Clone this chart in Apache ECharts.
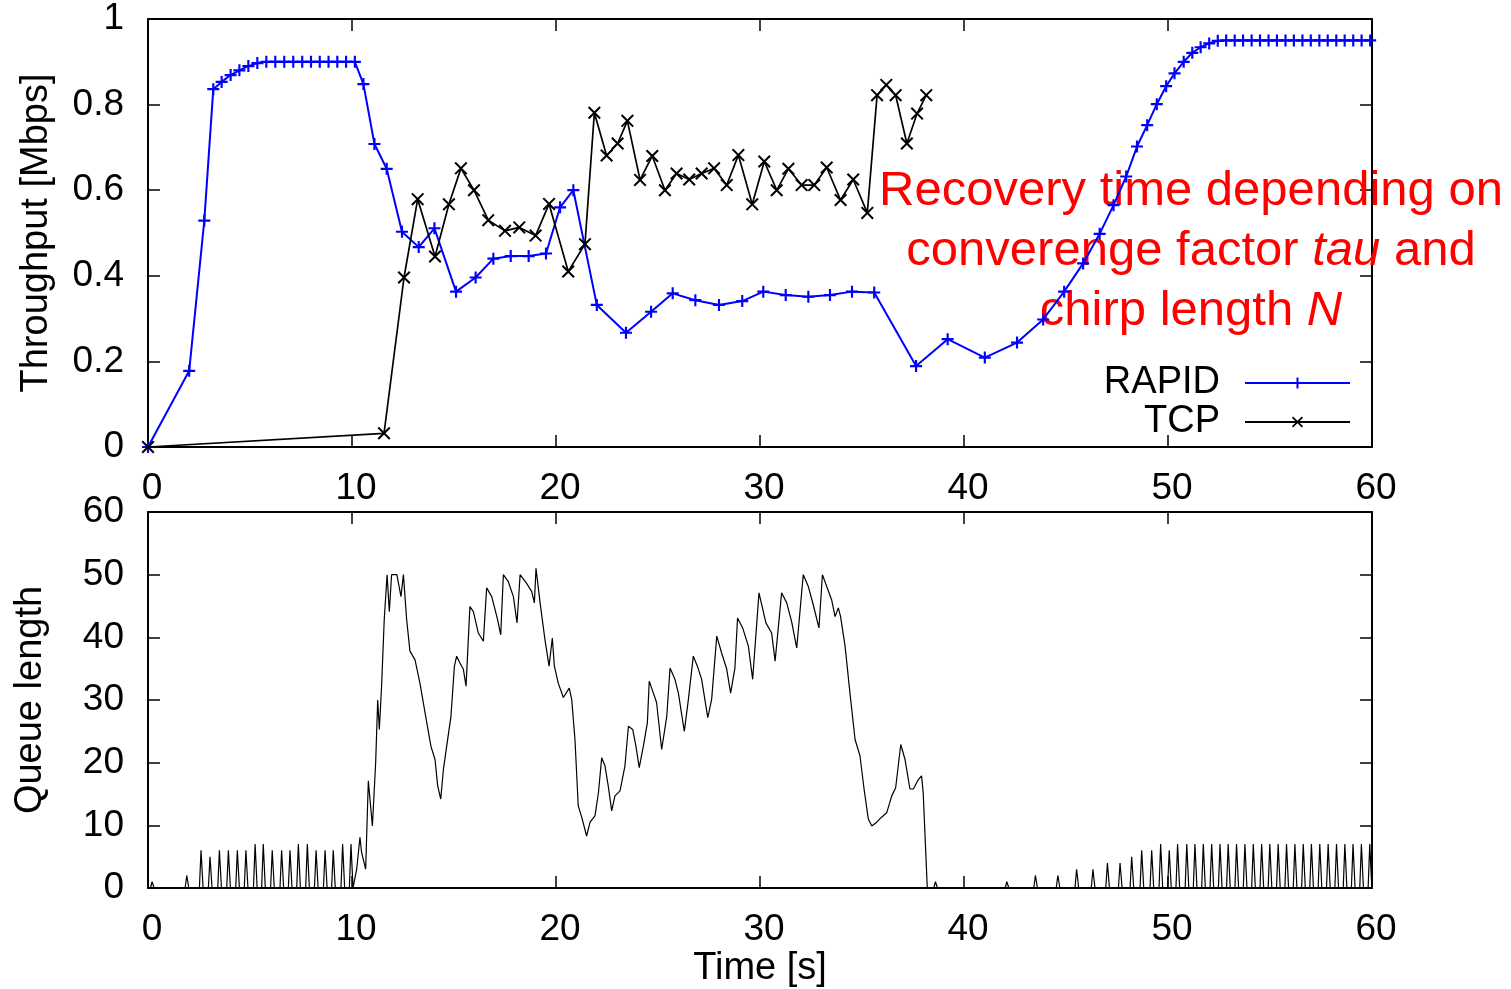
<!DOCTYPE html>
<html><head><meta charset="utf-8">
<script src="https://cdn.jsdelivr.net/npm/echarts@6/dist/echarts.min.js"></script>
<style>html,body{margin:0;padding:0;background:#fff}#c{width:1511px;height:989px}</style>
</head><body><div id="c"></div>
<script>
// ---------- data ----------
const xTickInterval = 10;
const rapidTime = [0, 2.02, 2.76, 3.2, 3.61, 4.05, 4.48, 4.92, 5.36, 5.8, 6.24, 6.68, 7.12, 7.56, 7.99, 8.42, 8.85, 9.28, 9.71, 10.14,
  10.56, 11.1, 11.7, 12.45, 13.27, 14.04, 15.1, 16.06, 16.93, 17.78, 18.66, 19.51, 20.2, 20.85, 22.0, 23.43, 24.66, 25.72, 26.83,
  27.99, 29.13, 30.16, 31.26, 32.37, 33.43, 34.51, 35.6, 37.65, 39.2, 41.02, 42.6, 43.88, 44.91, 45.84, 46.65, 47.33, 47.95, 48.48,
  48.98, 49.45, 49.91, 50.32, 50.77, 51.19, 51.6, 52.02, 52.44, 52.85, 53.27, 53.68, 54.1, 54.51, 54.93, 55.34, 55.76, 56.17, 56.59,
  57.0, 57.42, 57.83, 58.25, 58.66, 59.08, 59.49, 59.91];
const rapidThroughput = [0, 0.178, 0.529, 0.836, 0.853, 0.869, 0.88, 0.89, 0.897, 0.9, 0.9, 0.9, 0.9, 0.9, 0.9, 0.9, 0.9, 0.9, 0.9, 0.9,
  0.848, 0.708, 0.65, 0.503, 0.467, 0.511, 0.363, 0.396, 0.44, 0.446, 0.446, 0.452, 0.56, 0.6, 0.332, 0.267, 0.316, 0.359, 0.343,
  0.332, 0.341, 0.363, 0.355, 0.351, 0.355, 0.363, 0.361, 0.189, 0.252, 0.209, 0.244, 0.298, 0.363, 0.429, 0.498, 0.565, 0.632, 0.702,
  0.752, 0.801, 0.843, 0.873, 0.9, 0.921, 0.934, 0.943, 0.949, 0.95, 0.95, 0.95, 0.95, 0.95, 0.95, 0.95, 0.95, 0.95, 0.95,
  0.95, 0.95, 0.95, 0.95, 0.95, 0.95, 0.95, 0.95];
const tcpTime = [0, 11.57, 12.55, 13.22, 14.07, 14.75, 15.34, 15.98, 16.68, 17.5, 18.2, 19.0, 19.66, 20.6, 21.42, 21.88, 22.48, 23.02,
  23.5, 24.12, 24.72, 25.34, 25.91, 26.53, 27.14, 27.75, 28.37, 28.94, 29.62, 30.21, 30.82, 31.39, 32.04, 32.66, 33.27, 33.95, 34.57,
  35.26, 35.74, 36.19, 36.65, 37.2, 37.7, 38.15];
const tcpThroughput = [0, 0.032, 0.396, 0.579, 0.445, 0.567, 0.651, 0.6, 0.53, 0.505, 0.513, 0.494, 0.568, 0.41, 0.474, 0.781, 0.681, 0.709,
  0.762, 0.624, 0.68, 0.6, 0.639, 0.625, 0.639, 0.651, 0.612, 0.682, 0.567, 0.667, 0.6, 0.65, 0.612, 0.612, 0.653, 0.577, 0.625,
  0.547, 0.822, 0.846, 0.822, 0.709, 0.779, 0.822];

// queue: short bursts (peak time, peak length) while the link is underused
const burstTimeBefore = [0.2, 1.9, 2.6, 3.04, 3.5, 3.94, 4.38, 4.8, 5.25, 5.65, 6.09, 6.55, 6.96, 7.37, 7.81, 8.24, 8.68, 9.08, 9.54, 9.95];
const burstQueueBefore = [1, 2, 6, 5, 6, 6, 6, 6, 7, 7, 6, 6, 6, 7, 7, 6, 6, 6, 7, 7];
const burstTimeAfter = [38.6, 42.1, 43.5, 44.6, 45.52, 46.32, 47.03, 47.65, 48.22, 48.71, 49.2, 49.64, 50.06, 50.47, 50.92, 51.32,
  51.73, 52.14, 52.55, 52.95, 53.36, 53.77, 54.18, 54.59, 54.99, 55.4, 55.81, 56.22, 56.63, 57.03, 57.44, 57.85, 58.26, 58.67,
  59.07, 59.48, 59.89];
const burstQueueAfter = [1, 1, 2, 2, 3, 3, 4, 4, 5, 6, 6, 7, 6, 7, 7, 7, 7, 7, 7, 7, 7, 7, 7, 7, 7, 7, 7, 7, 7, 7, 7, 7, 7, 7, 7, 7, 7];
// queue while competing with TCP: [time, length]
const queueBusy = [[10.07,0],[10.23,3],[10.39,8.1],[10.47,5.7],[10.67,3],[10.8,17.1],[11.0,9.9],[11.16,20],[11.26,30],[11.34,25.3],
  [11.45,32.2],[11.58,42.8],[11.72,50],[11.83,44.1],[11.94,50],[12.2,50],[12.4,46.5],[12.52,50],[12.68,42.8],[12.84,37.8],[13.09,36.4],
  [13.33,32.7],[13.58,28],[13.87,22.6],[14.07,20.5],[14.2,16.3],[14.35,14.2],[14.48,18.9],[14.64,22.6],[14.85,27.4],[15.02,35.4],
  [15.13,37],[15.29,35.9],[15.46,34.9],[15.59,32.2],[15.78,44.9],[15.95,44.1],[16.19,40.7],[16.44,39.4],[16.6,47.9],[16.85,46.5],
  [17.14,42.8],[17.29,40.4],[17.42,50],[17.66,48.9],[17.91,46.5],[18.09,42.3],[18.24,50],[18.56,48.6],[18.81,47.3],[18.94,45.5],
  [19.02,51],[19.22,45.5],[19.46,39.6],[19.66,35.4],[19.82,39.9],[19.92,35.4],[20.11,32.7],[20.36,30.4],[20.65,31.9],[20.77,30.1],
  [20.93,23.7],[21.09,13.1],[21.26,11.3],[21.5,8.3],[21.67,10.5],[21.91,11.5],[22.08,15.2],[22.24,20.8],[22.4,19.5],[22.56,16.3],
  [22.73,12.3],[22.89,14.7],[23.14,15.5],[23.38,19.5],[23.55,25.8],[23.76,25.3],[23.92,22.6],[24.08,19.2],[24.28,22.6],[24.48,26.4],
  [24.57,33],[24.69,31.9],[24.93,29.6],[25.18,22.1],[25.43,27.4],[25.59,35.1],[25.83,33.3],[26.0,31.1],[26.29,25],[26.49,30.1],
  [26.73,37],[26.93,35.4],[27.14,33.3],[27.44,27.2],[27.63,30.1],[27.88,40.2],[28.12,37.5],[28.37,34.9],[28.56,31.1],[28.77,35.1],
  [28.9,43.1],[29.15,41.5],[29.43,38.6],[29.64,33.3],[29.95,47.1],[30.29,42.3],[30.57,40.7],[30.74,36.2],[31.06,47.1],[31.31,45.5],
  [31.55,42.5],[31.8,38.3],[32.12,50],[32.37,48.1],[32.61,45.2],[32.89,41.5],[33.06,50],[33.27,48.1],[33.51,46],[33.68,43.3],
  [33.84,44.7],[33.95,43.3],[34.17,38.6],[34.41,31.1],[34.66,23.7],[34.9,21.1],[35.1,15.8],[35.31,11],[35.48,9.9],[35.72,10.5],
  [35.96,11.3],[36.21,12],[36.46,14.7],[36.65,16],[36.9,22.9],[37.11,20.5],[37.35,15.8],[37.52,15.8],[37.76,17.3],[37.92,17.9],
  [38.0,15.2],[38.2,0]];

// ---------- build ----------
const FONT = '"Liberation Sans", Arial, Helvetica, sans-serif';
const rapidData = rapidTime.map((t, i) => [t, rapidThroughput[i]]);
const tcpData = tcpTime.map((t, i) => [t, tcpThroughput[i]]);
const BURST_RISE = 0.08, BURST_FALL = 0.1; // shape of a burst (display)
function bursts(times, qs) {
  const out = [];
  times.forEach((t, i) => { out.push([t - BURST_RISE, 0], [t, qs[i]], [t + BURST_FALL, 0]); });
  return out;
}
const queueData = [[0, 0]].concat(bursts(burstTimeBefore, burstQueueBefore), queueBusy,
  bursts(burstTimeAfter, burstQueueAfter), [[60, 0]]);

const plusPath = 'path://M0,4.1L10,4.1L10,5.9L0,5.9Z M4.1,0L5.9,0L5.9,10L4.1,10Z';
const crossPath = 'path://M0,1.1L1.1,0L10,8.9L8.9,10Z M8.9,0L10,1.1L1.1,10L0,8.9Z';

const lbl = { color: '#000', fontSize: 37, fontFamily: FONT };
const ttl = { color: '#000', fontSize: 38, fontFamily: FONT };
function xAx(grid, pos, extra) {
  return Object.assign({
    gridIndex: grid, type: 'value', min: 0, max: 60, interval: xTickInterval, position: pos,
    axisLine: { show: true, onZero: false, lineStyle: { color: '#000', width: 2 } },
    axisTick: { show: true, inside: true, length: 12, lineStyle: { color: '#000', width: 1.5 } },
    axisLabel: pos === 'bottom' ? Object.assign({ margin: 23, padding: [0, 0, 0, 8] }, lbl) : { show: false },
    splitLine: { show: false }
  }, extra || {});
}
function yAx(grid, pos, max, interval, extra) {
  return Object.assign({
    gridIndex: grid, type: 'value', min: 0, max: max, interval: interval, position: pos,
    axisLine: { show: true, onZero: false, lineStyle: { color: '#000', width: 2 } },
    axisTick: { show: true, inside: true, length: 12, lineStyle: { color: '#000', width: 1.5 } },
    axisLabel: pos === 'left' ? Object.assign({ margin: 24 }, lbl) : { show: false },
    splitLine: { show: false }
  }, extra || {});
}

const chart = echarts.init(document.getElementById('c'), null, { renderer: 'canvas' });
chart.setOption({
  animation: false,
  backgroundColor: '#fff',
  textStyle: { fontFamily: FONT },
  grid: [
    { left: 148, top: 19, width: 1224, height: 428, containLabel: false },
    { left: 148, top: 512, width: 1224, height: 377, containLabel: false }
  ],
  xAxis: [
    xAx(0, 'bottom'), xAx(0, 'top'),
    xAx(1, 'bottom', { name: 'Time [s]', nameLocation: 'middle', nameGap: 62, nameTextStyle: ttl }),
    xAx(1, 'top')
  ],
  yAxis: [
    yAx(0, 'left', 1, 0.2, { name: 'Throughput [Mbps]', nameLocation: 'middle', nameGap: 92, nameTextStyle: ttl }),
    yAx(0, 'right', 1, 0.2),
    yAx(1, 'left', 60, 10, { name: 'Queue length', nameLocation: 'middle', nameGap: 98, nameTextStyle: ttl }),
    yAx(1, 'right', 60, 10)
  ],
  legend: {
    data: ['RAPID', 'TCP'], orient: 'vertical', right: 155, top: 359, align: 'right',
    itemWidth: 105, itemHeight: 14, itemGap: 1,
    textStyle: { color: '#000', fontSize: 38, fontFamily: FONT, padding: [0, 20, 0, 0] },
    selectedMode: false
  },
  graphic: [{
    type: 'text', z: 1, zlevel: 0, silent: true,
    style: {
      x: 1191, y: 251, align: 'center', verticalAlign: 'middle',
      text: 'Recovery time depending on\nconverenge factor {i|tau} and\nchirp length {i|N}',
      fill: '#ff0000', font: '49px ' + FONT, lineHeight: 60,
      rich: { i: { fontStyle: 'italic', fontSize: 49, fontFamily: FONT, fill: '#ff0000', lineHeight: 60 } }
    }
  }],
  series: [
    {
      name: 'RAPID', type: 'line', xAxisIndex: 0, yAxisIndex: 0, data: rapidData,
      symbol: plusPath, symbolSize: 12, showSymbol: true, z: 3,
      lineStyle: { color: '#0000ff', width: 2 }, itemStyle: { color: '#0000ff' }
    },
    {
      name: 'TCP', type: 'line', xAxisIndex: 0, yAxisIndex: 0, data: tcpData,
      symbol: crossPath, symbolSize: 13, showSymbol: true, z: 4,
      lineStyle: { color: '#000', width: 1.7 }, itemStyle: { color: '#000' }
    },
    {
      type: 'line', xAxisIndex: 2, yAxisIndex: 2, data: queueData, showSymbol: false,
      lineStyle: { color: '#000', width: 1.2 }, itemStyle: { color: '#000' }, z: 3
    }
  ]
});
</script></body></html>
